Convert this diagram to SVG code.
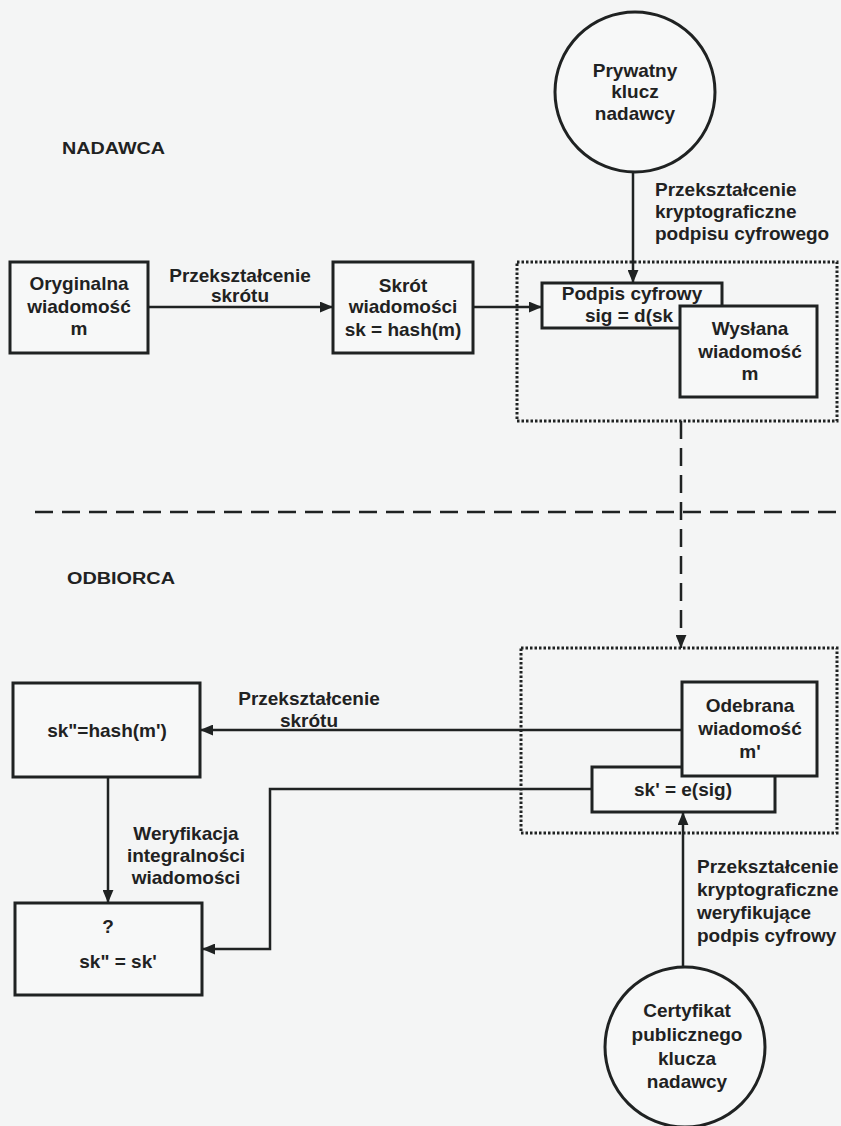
<svg xmlns="http://www.w3.org/2000/svg" width="841" height="1126" viewBox="0 0 841 1126">
  <style>
    .t { font-family: "Liberation Sans", Arial, sans-serif; font-weight: bold; font-size: 19px; fill: #1f2222; }
    .c { text-anchor: middle; }
    .hd { font-family: "Liberation Sans", Arial, sans-serif; font-weight: bold; font-size: 16px; fill: #1f2222; }
    .box { fill: #f7f8f8; stroke: #1f2222; stroke-width: 3; }
    .ring { fill: #f7f8f8; stroke: #1f2222; stroke-width: 3; }
    .frame { fill: none; stroke: #1f2222; stroke-width: 3; stroke-dasharray: 2.5 2; }
    .edge { fill: none; stroke: #1f2222; stroke-width: 2.5; }
    .dash { fill: none; stroke: #1f2222; stroke-width: 2.5; stroke-dasharray: 18 9; }
  </style>
  <defs>
    <marker id="arrow" viewBox="0 0 12 10" refX="12" refY="5" markerWidth="13" markerHeight="11" markerUnits="userSpaceOnUse" orient="auto">
      <path d="M0,0 L12,5 L0,10 Z" fill="#1f2222"/>
    </marker>
  </defs>

  <rect width="841" height="1126" fill="#f4f5f5"/>

  <!-- section headings and divider -->
  <g id="headings">
    <text class="hd" x="62" y="154" textLength="103" lengthAdjust="spacingAndGlyphs">NADAWCA</text>
    <text class="hd" x="67" y="584" textLength="108" lengthAdjust="spacingAndGlyphs">ODBIORCA</text>
    <line class="dash" x1="35" y1="512" x2="841" y2="512"/>
  </g>

  <!-- dotted frames grouping the sent and received parts -->
  <g id="sent-frame"><rect class="frame" x="517" y="262" width="320" height="159"/></g>
  <g id="received-frame"><rect class="frame" x="521" y="648" width="316" height="185"/></g>

  <!-- connectors -->
  <g id="connectors">
    <line class="edge" x1="148" y1="307" x2="333" y2="307" marker-end="url(#arrow)"/>
    <line class="edge" x1="473" y1="307" x2="542" y2="307" marker-end="url(#arrow)"/>
    <line class="edge" x1="633" y1="172" x2="633" y2="283" marker-end="url(#arrow)"/>
    <line class="dash" x1="681" y1="421" x2="681" y2="648" marker-end="url(#arrow)"/>
    <line class="edge" x1="682" y1="730" x2="200" y2="730" marker-end="url(#arrow)"/>
    <polyline class="edge" points="592,789 270,789 270,949 202,949" marker-end="url(#arrow)"/>
    <line class="edge" x1="108" y1="777" x2="108" y2="903" marker-end="url(#arrow)"/>
    <line class="edge" x1="683" y1="967" x2="683" y2="812" marker-end="url(#arrow)"/>
  </g>

  <!-- connector labels -->
  <g id="labels">
    <text class="t c" x="240" y="282">Przekształcenie</text>
    <text class="t c" x="240" y="302">skrótu</text>
    <text class="t" x="655" y="196">Przekształcenie</text>
    <text class="t" x="655" y="218">kryptograficzne</text>
    <text class="t" x="655" y="240">podpisu cyfrowego</text>
    <text class="t c" x="309" y="705">Przekształcenie</text>
    <text class="t c" x="309" y="727">skrótu</text>
    <text class="t c" x="186" y="840">Weryfikacja</text>
    <text class="t c" x="186" y="862">integralności</text>
    <text class="t c" x="186" y="884">wiadomości</text>
    <text class="t" x="697" y="873">Przekształcenie</text>
    <text class="t" x="697" y="896">kryptograficzne</text>
    <text class="t" x="697" y="919">weryfikujące</text>
    <text class="t" x="697" y="942">podpis cyfrowy</text>
  </g>

  <!-- sender side -->
  <g id="private-key">
    <circle class="ring" cx="635" cy="92" r="80"/>
    <text class="t c" x="635" y="77">Prywatny</text>
    <text class="t c" x="635" y="98">klucz</text>
    <text class="t c" x="635" y="120">nadawcy</text>
  </g>
  <g id="original-message">
    <rect class="box" x="10" y="262" width="138" height="91"/>
    <text class="t c" x="79" y="290">Oryginalna</text>
    <text class="t c" x="79" y="313">wiadomość</text>
    <text class="t c" x="79" y="335">m</text>
  </g>
  <g id="message-digest">
    <rect class="box" x="333" y="262" width="140" height="91"/>
    <text class="t c" x="403" y="292">Skrót</text>
    <text class="t c" x="403" y="313">wiadomości</text>
    <text class="t c" x="403" y="336">sk = hash(m)</text>
  </g>
  <g id="digital-signature">
    <rect class="box" x="542" y="283" width="180" height="45"/>
    <text class="t c" x="632" y="300">Podpis cyfrowy</text>
    <text class="t" x="585" y="322">sig = d(sk</text>
  </g>
  <g id="sent-message">
    <rect class="box" x="680" y="306" width="137" height="91"/>
    <text class="t c" x="750" y="335">Wysłana</text>
    <text class="t c" x="750" y="358">wiadomość</text>
    <text class="t c" x="750" y="380">m</text>
  </g>

  <!-- receiver side -->
  <g id="decrypted-digest">
    <rect class="box" x="592" y="767" width="183" height="45"/>
    <text class="t c" x="683" y="796">sk' = e(sig)</text>
  </g>
  <g id="received-message">
    <rect class="box" x="682" y="682" width="135" height="94"/>
    <text class="t c" x="750" y="712">Odebrana</text>
    <text class="t c" x="750" y="735">wiadomość</text>
    <text class="t c" x="750" y="758">m'</text>
  </g>
  <g id="computed-digest">
    <rect class="box" x="13" y="683" width="187" height="94"/>
    <text class="t c" x="107" y="737">sk"=hash(m')</text>
  </g>
  <g id="comparison">
    <rect class="box" x="15" y="903" width="187" height="92"/>
    <text class="t c" x="108" y="933">?</text>
    <text class="t c" x="118" y="968">sk" = sk'</text>
  </g>
  <g id="public-key-certificate">
    <circle class="ring" cx="685" cy="1047" r="80"/>
    <text class="t c" x="687" y="1017">Certyfikat</text>
    <text class="t c" x="687" y="1041">publicznego</text>
    <text class="t c" x="687" y="1065">klucza</text>
    <text class="t c" x="687" y="1088">nadawcy</text>
  </g>
</svg>
